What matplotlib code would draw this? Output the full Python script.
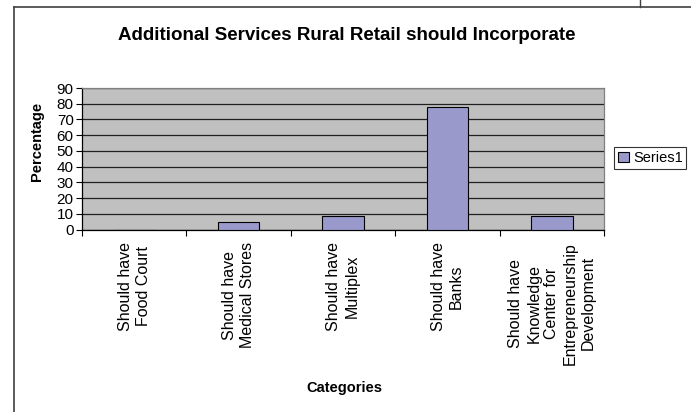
import matplotlib
matplotlib.use("Agg")
import matplotlib.pyplot as plt
from matplotlib.lines import Line2D

plt.rcParams['font.family'] = ['Liberation Sans', 'DejaVu Sans']

# data
categories = [
    "Should have\nFood Court",
    "Should have\nMedical Stores",
    "Should have\nMultiplex",
    "Should have\nBanks",
    "Should have\nKnowledge\nCenter for\nEntrepreneurship\nDevelopment",
]
series1 = [0, 4.6, 8.5, 78, 8.5]
y_ticks = [0, 10, 20, 30, 40, 50, 60, 70, 80, 90]

W, H = 691, 412
fig = plt.figure(figsize=(W / 100, H / 100), dpi=100)
fig.patch.set_facecolor('white')

# plot area in pixel coords of the reference
left, right, top, bottom = 82, 604, 88, 229.5
ax = fig.add_axes([left / W, 1 - bottom / H, (right - left) / W, (bottom - top) / H])
ax.set_facecolor('#c0c0c0')

x = list(range(len(categories)))
ax.bar(x, series1, width=0.4, color='#9999cc', edgecolor='black', linewidth=0.8,
       label='Series1', zorder=3)

ax.set_xlim(-0.5, len(categories) - 0.5)
ax.set_ylim(0, 90)
ax.set_yticks(y_ticks)
ax.tick_params(axis='y', direction='out', length=4, width=0.8, labelsize=11, pad=2)
ax.yaxis.grid(True, color='#202020', linewidth=0.9, zorder=1)
ax.set_axisbelow(True)

# category boundaries get the tick marks, labels sit at the centres
ax.set_xticks([i - 0.5 for i in range(len(categories) + 1)])
ax.set_xticklabels([])
ax.tick_params(axis='x', which='major', direction='out', length=4, width=0.8)
ax.set_xticks(x, categories, minor=True)
ax.tick_params(axis='x', which='minor', length=0, pad=9, labelsize=11.5)
for lab in ax.get_xticklabels(minor=True):
    lab.set_rotation(90)
    lab.set_multialignment('center')
    lab.set_linespacing(1.25)

for s in ['left', 'bottom']:
    ax.spines[s].set_color('black')
    ax.spines[s].set_linewidth(0.9)
for s in ['top', 'right']:
    ax.spines[s].set_color('#808080')
    ax.spines[s].set_linewidth(0.9)

fig.text(347 / W, 1 - 35 / H, "Additional Services Rural Retail should Incorporate",
         ha='center', va='center', fontsize=13.5, fontweight='bold')
fig.text(37 / W, 1 - 141 / H, "Percentage", ha='center', va='center',
         rotation=90, fontsize=10.5, fontweight='bold')
fig.text(344 / W, 1 - 388 / H, "Categories", ha='center', va='center',
         fontsize=10.5, fontweight='bold')

leg = fig.legend(loc='center left', bbox_to_anchor=(614 / W, 1 - 158 / H),
                 fontsize=10.5, frameon=True, fancybox=False, borderpad=0.25,
                 handlelength=0.75, handleheight=0.75, handletextpad=0.3,
                 borderaxespad=0)
leg.get_frame().set_edgecolor('black')
leg.get_frame().set_linewidth(0.8)

# chart border, cut off at right and bottom
fig.add_artist(Line2D([14 / W, 14 / W], [0, 1 - 7 / H], color='#404040', linewidth=1.2))
fig.add_artist(Line2D([14 / W, 1], [1 - 7 / H, 1 - 7 / H], color='#404040', linewidth=1.2))
fig.add_artist(Line2D([640 / W, 640 / W], [1 - 7 / H, 1], color='#404040', linewidth=1.0))

fig.savefig('out.png', dpi=100)
